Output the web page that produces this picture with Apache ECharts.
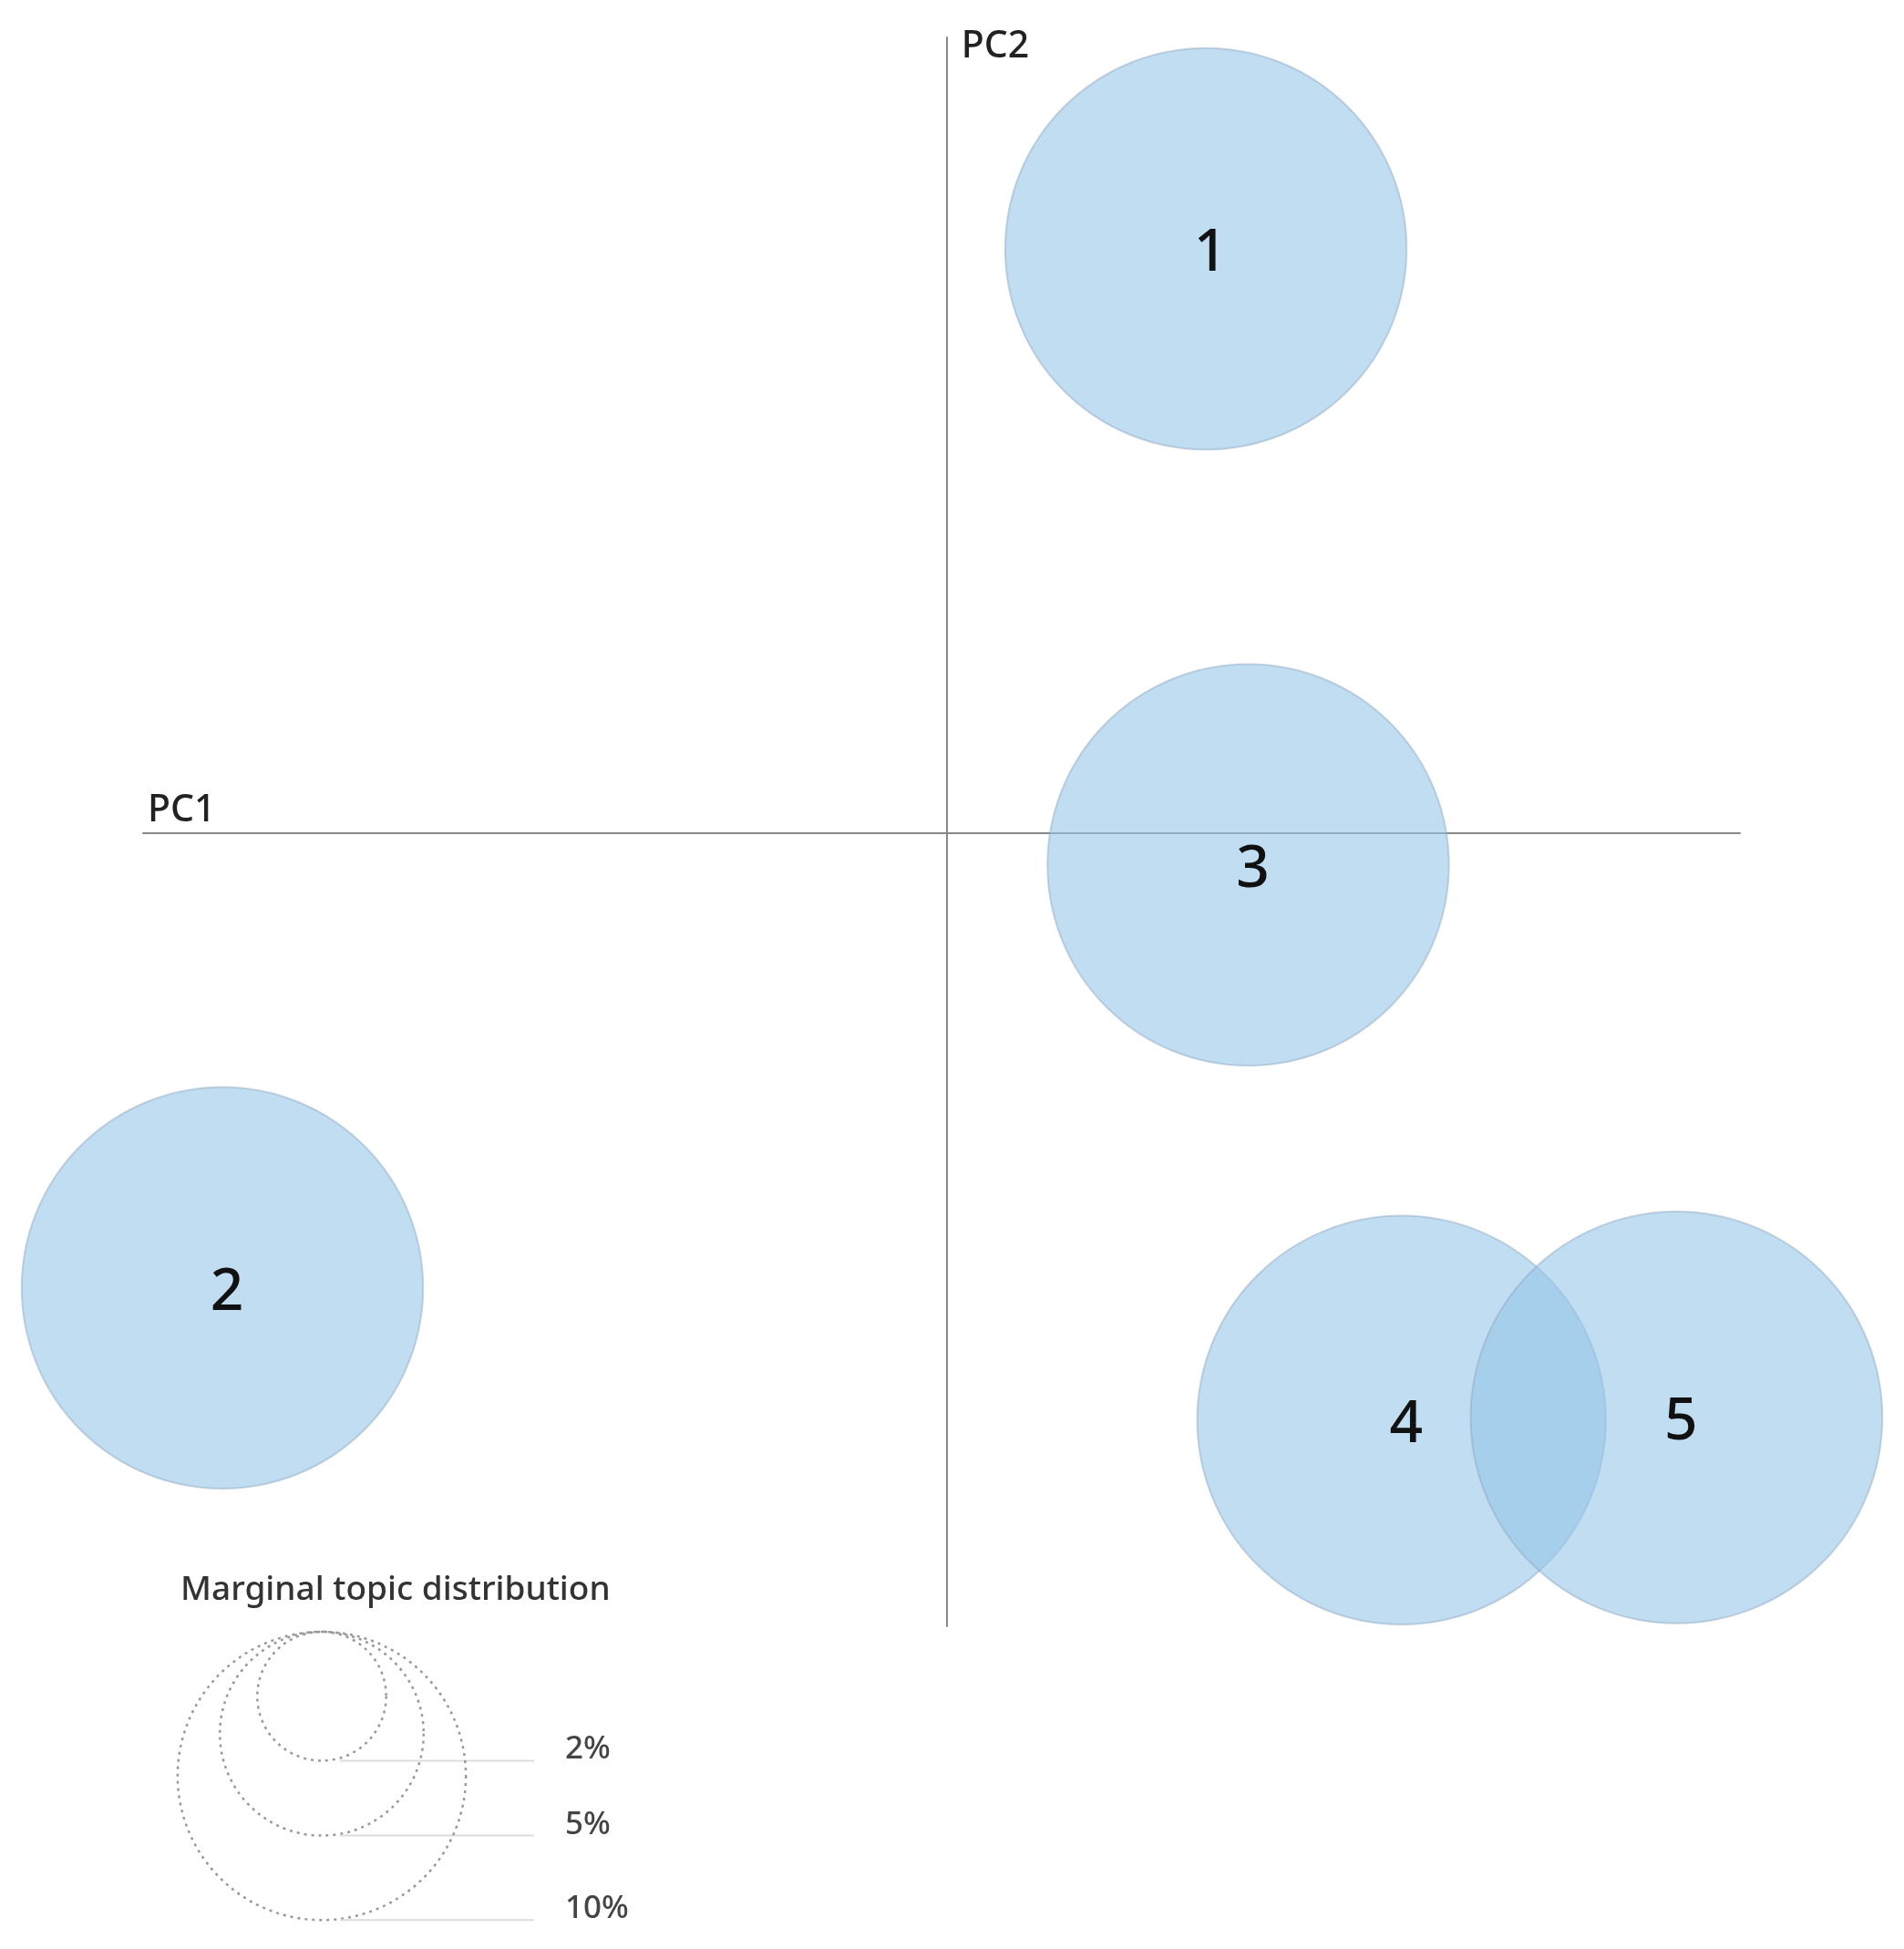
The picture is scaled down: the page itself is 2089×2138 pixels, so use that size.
<!DOCTYPE html>
<html>
<head>
<meta charset="utf-8">
<script src="https://cdn.jsdelivr.net/npm/echarts@6/dist/echarts.min.js"></script>
<style>
  html, body { margin: 0; padding: 0; background: #fff; }
  #chart { width: 2089px; height: 2138px; }
</style>
</head>
<body>
<div id="chart"></div>
<script>
// 主题编号
const topicIds = ['1', '2', '3', '4', '5'];
// 主成分坐标
const pc1 = [0.098, -0.274, 0.114, 0.172, 0.276];
const pc2 = [0.221, -0.172, -0.012, -0.222, -0.221];
// 主题边际分布 (%)
const marginalPct = [19.4, 19.4, 19.4, 20.1, 20.4];
// 图例
const legendPct = [2, 5, 10];
const legendLabels = ['2%', '5%', '10%'];

// 半径 = k * sqrt(百分比)
const k = 50;
function radius(p) {
  return k * Math.sqrt(p);
}

const fontFamily = "'Noto Sans', 'Open Sans', sans-serif";

const chart = echarts.init(document.getElementById('chart'), null, { renderer: 'canvas' });

// 图例: 顶部对齐的虚线圆
const legendCx = 353;
const legendTop = 1790;
const legendGraphics = [{
  type: 'text',
  left: 198,
  top: 1726,
  style: { text: 'Marginal topic distribution', font: '500 37px ' + fontFamily, fill: '#333' }
}];
legendPct.forEach((p, i) => {
  const r = radius(p);
  const yb = legendTop + 2 * r;
  legendGraphics.push({
    type: 'circle',
    shape: { cx: legendCx, cy: legendTop + r, r: r },
    style: { fill: 'none', stroke: '#999', lineWidth: 2.5, lineDash: [3, 5] }
  });
  legendGraphics.push({
    type: 'line',
    shape: { x1: legendCx + 20, y1: yb, x2: 586, y2: yb },
    style: { stroke: '#ddd', lineWidth: 2 }
  });
  legendGraphics.push({
    type: 'text',
    x: 620,
    y: yb - 12,
    style: { text: legendLabels[i], font: '500 35px ' + fontFamily, fill: '#444', verticalAlign: 'middle' }
  });
});

const option = {
  backgroundColor: '#fff',
  animation: false,
  grid: { left: 157, right: 180, top: 41, bottom: 354 },
  xAxis: {
    type: 'value',
    min: -0.304,
    max: 0.300,
    name: 'PC1',
    nameLocation: 'start',
    nameGap: -5,
    nameTextStyle: { fontFamily: fontFamily, fontSize: 41, fontWeight: 500, color: '#222', align: 'left', verticalAlign: 'bottom', padding: [0, 0, 4, 0] },
    axisLine: { onZero: true, lineStyle: { color: '#888', width: 2 } },
    axisTick: { show: false },
    axisLabel: { show: false },
    splitLine: { show: false }
  },
  yAxis: {
    type: 'value',
    min: -0.300,
    max: 0.301,
    name: 'PC2',
    nameLocation: 'end',
    nameGap: 10,
    nameTextStyle: { fontFamily: fontFamily, fontSize: 41, fontWeight: 500, color: '#222', align: 'left', verticalAlign: 'top', padding: [0, 0, 0, 16] },
    axisLine: { onZero: true, lineStyle: { color: '#888', width: 2 } },
    axisTick: { show: false },
    axisLabel: { show: false },
    splitLine: { show: false }
  },
  series: [{
    type: 'scatter',
    data: topicIds.map((id, i) => [pc1[i], pc2[i], marginalPct[i], id]),
    symbolSize: function (val) {
      return 2 * radius(val[2]);
    },
    itemStyle: {
      color: 'rgba(148, 197, 231, 0.59)',
      opacity: 1,
      borderColor: 'rgba(140, 165, 190, 0.45)',
      borderWidth: 2
    },
    label: {
      show: true,
      position: 'inside',
      offset: [5, 6],
      formatter: p => p.value[3],
      fontFamily: fontFamily,
      fontSize: 64,
      fontWeight: 500,
      color: '#111'
    },
    emphasis: { disabled: true }
  }],
  graphic: legendGraphics
};

chart.setOption(option);
</script>
</body>
</html>
